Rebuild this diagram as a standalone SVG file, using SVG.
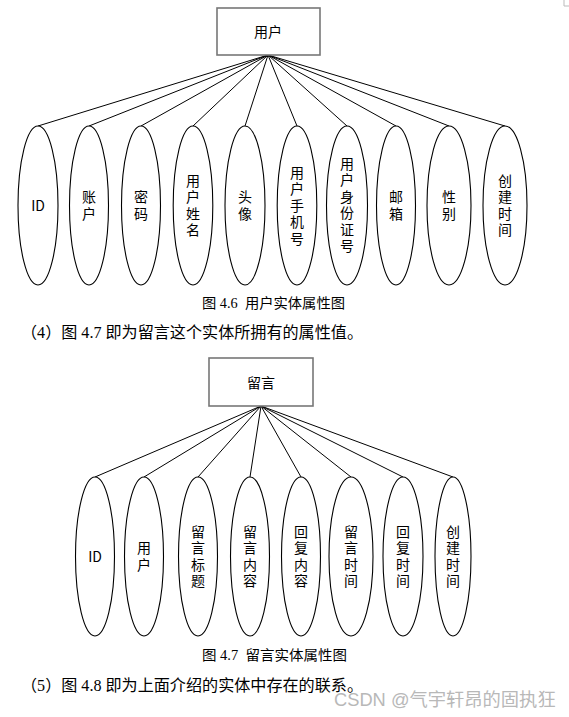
<svg xmlns="http://www.w3.org/2000/svg" width="569" height="717" viewBox="0 0 569 717">
<style>
.box{fill:#fff;stroke:#777;stroke-width:1.6}
.ell{fill:#fff;stroke:#000;stroke-width:1.1}
.conn line{stroke:#000;stroke-width:1}
.lbl{font-family:"Noto Sans CJK SC","Liberation Sans",sans-serif;font-size:14px;fill:#000;text-anchor:middle;dominant-baseline:central}
.vl{font-family:"Noto Sans CJK SC",sans-serif;font-size:14px;fill:#000;text-anchor:middle;writing-mode:vertical-rl;letter-spacing:2.5px}
.ttl{font-family:"Noto Sans CJK SC","Liberation Sans",sans-serif;font-size:14px;fill:#000;text-anchor:middle;dominant-baseline:central}
.cap{font-family:"Liberation Serif","Noto Sans CJK SC",serif;font-size:14px;fill:#000;dominant-baseline:central}
.para{font-family:"Liberation Serif","Noto Sans CJK SC",serif;font-size:16px;fill:#000;dominant-baseline:central}
.wm{font-family:"Liberation Sans","Noto Sans CJK SC",sans-serif;font-size:18.3px;fill:#b8b8b8;dominant-baseline:central}
</style>
<rect width="569" height="717" fill="#fff"/>
<path d="M564 0 V6 H569" fill="none" stroke="#bbb" stroke-width="1"/>

<!-- Diagram 1 connectors -->
<g id="connectors1" class="conn">
<line x1="268" y1="55" x2="38" y2="126"/>
<line x1="268" y1="55" x2="89" y2="126"/>
<line x1="268" y1="55" x2="141" y2="126"/>
<line x1="268" y1="55" x2="193" y2="126"/>
<line x1="268" y1="55" x2="245" y2="126"/>
<line x1="268" y1="55" x2="297" y2="126"/>
<line x1="268" y1="55" x2="347" y2="126"/>
<line x1="268" y1="55" x2="396" y2="126"/>
<line x1="268" y1="55" x2="449" y2="126"/>
<line x1="268" y1="55" x2="505" y2="126"/>
</g>

<g id="user">
<rect class="box" x="217" y="8" width="103" height="47"/>
<text class="ttl" x="268" y="31">用户</text>
</g>

<g id="u-id"><ellipse class="ell" cx="38" cy="205.5" rx="20" ry="79.5"/><text class="lbl" x="38" y="205">ID</text></g>
<g id="u-account"><ellipse class="ell" cx="89" cy="205.5" rx="19.5" ry="79.5"/><text class="vl" x="89" y="206.5">账户</text></g>
<g id="u-password"><ellipse class="ell" cx="141" cy="205.5" rx="19.5" ry="79.5"/><text class="vl" x="141" y="206.5">密码</text></g>
<g id="u-name"><ellipse class="ell" cx="193" cy="205.5" rx="19.8" ry="79.5"/><text class="vl" x="193" y="206.5">用户姓名</text></g>
<g id="u-avatar"><ellipse class="ell" cx="245" cy="205.5" rx="20" ry="79.5"/><text class="vl" x="245" y="206.5">头像</text></g>
<g id="u-phone"><ellipse class="ell" cx="297" cy="205.5" rx="19.8" ry="79.5"/><text class="vl" x="297" y="206.5">用户手机号</text></g>
<g id="u-idcard"><ellipse class="ell" cx="347" cy="205.5" rx="20.5" ry="79.5"/><text class="vl" x="347" y="206">用户身份证号</text></g>
<g id="u-email"><ellipse class="ell" cx="396" cy="205.5" rx="19.5" ry="79.5"/><text class="vl" x="396" y="206.5">邮箱</text></g>
<g id="u-gender"><ellipse class="ell" cx="449" cy="205.5" rx="22" ry="79.5"/><text class="vl" x="449" y="206.5">性别</text></g>
<g id="u-created"><ellipse class="ell" cx="505" cy="205.5" rx="22" ry="79.5"/><text class="vl" x="505" y="206.5">创建时间</text></g>

<text class="cap" x="202" y="303" textLength="143" lengthAdjust="spacingAndGlyphs">图 4.6&#160; 用户实体属性图</text>
<text class="para" x="21" y="332" textLength="342" lengthAdjust="spacingAndGlyphs">（4）图 4.7 即为留言这个实体所拥有的属性值。</text>

<!-- Diagram 2 connectors -->
<g id="connectors2" class="conn">
<line x1="261" y1="406" x2="95" y2="477"/>
<line x1="261" y1="406" x2="144" y2="477"/>
<line x1="261" y1="406" x2="198" y2="477"/>
<line x1="261" y1="406" x2="250" y2="477"/>
<line x1="261" y1="406" x2="301" y2="477"/>
<line x1="261" y1="406" x2="351" y2="477"/>
<line x1="261" y1="406" x2="403" y2="477"/>
<line x1="261" y1="406" x2="453" y2="477"/>
</g>

<g id="message">
<rect class="box" x="209" y="358" width="104" height="48"/>
<text class="ttl" x="261" y="382">留言</text>
</g>

<g id="m-id"><ellipse class="ell" cx="95" cy="556.5" rx="19.5" ry="79.5"/><text class="lbl" x="95" y="556">ID</text></g>
<g id="m-user"><ellipse class="ell" cx="144" cy="556.5" rx="19.5" ry="79.5"/><text class="vl" x="144" y="557.5">用户</text></g>
<g id="m-title"><ellipse class="ell" cx="198" cy="556.5" rx="19.5" ry="79.5"/><text class="vl" x="198" y="557.5">留言标题</text></g>
<g id="m-content"><ellipse class="ell" cx="250" cy="556.5" rx="19.5" ry="79.5"/><text class="vl" x="250" y="557.5">留言内容</text></g>
<g id="m-reply"><ellipse class="ell" cx="301" cy="556.5" rx="19.5" ry="79.5"/><text class="vl" x="301" y="557.5">回复内容</text></g>
<g id="m-time"><ellipse class="ell" cx="351" cy="556.5" rx="22" ry="79.5"/><text class="vl" x="351" y="557.5">留言时间</text></g>
<g id="m-replytime"><ellipse class="ell" cx="403" cy="556.5" rx="20" ry="79.5"/><text class="vl" x="403" y="557.5">回复时间</text></g>
<g id="m-created"><ellipse class="ell" cx="453" cy="556.5" rx="18" ry="79.5"/><text class="vl" x="453" y="557.5">创建时间</text></g>

<text class="cap" x="202" y="655" textLength="145" lengthAdjust="spacingAndGlyphs">图 4.7&#160; 留言实体属性图</text>
<text class="para" x="21" y="685" textLength="342" lengthAdjust="spacingAndGlyphs">（5）图 4.8 即为上面介绍的实体中存在的联系。</text>
<text class="wm" x="334" y="699">CSDN @气宇轩昂的固执狂</text>
</svg>
